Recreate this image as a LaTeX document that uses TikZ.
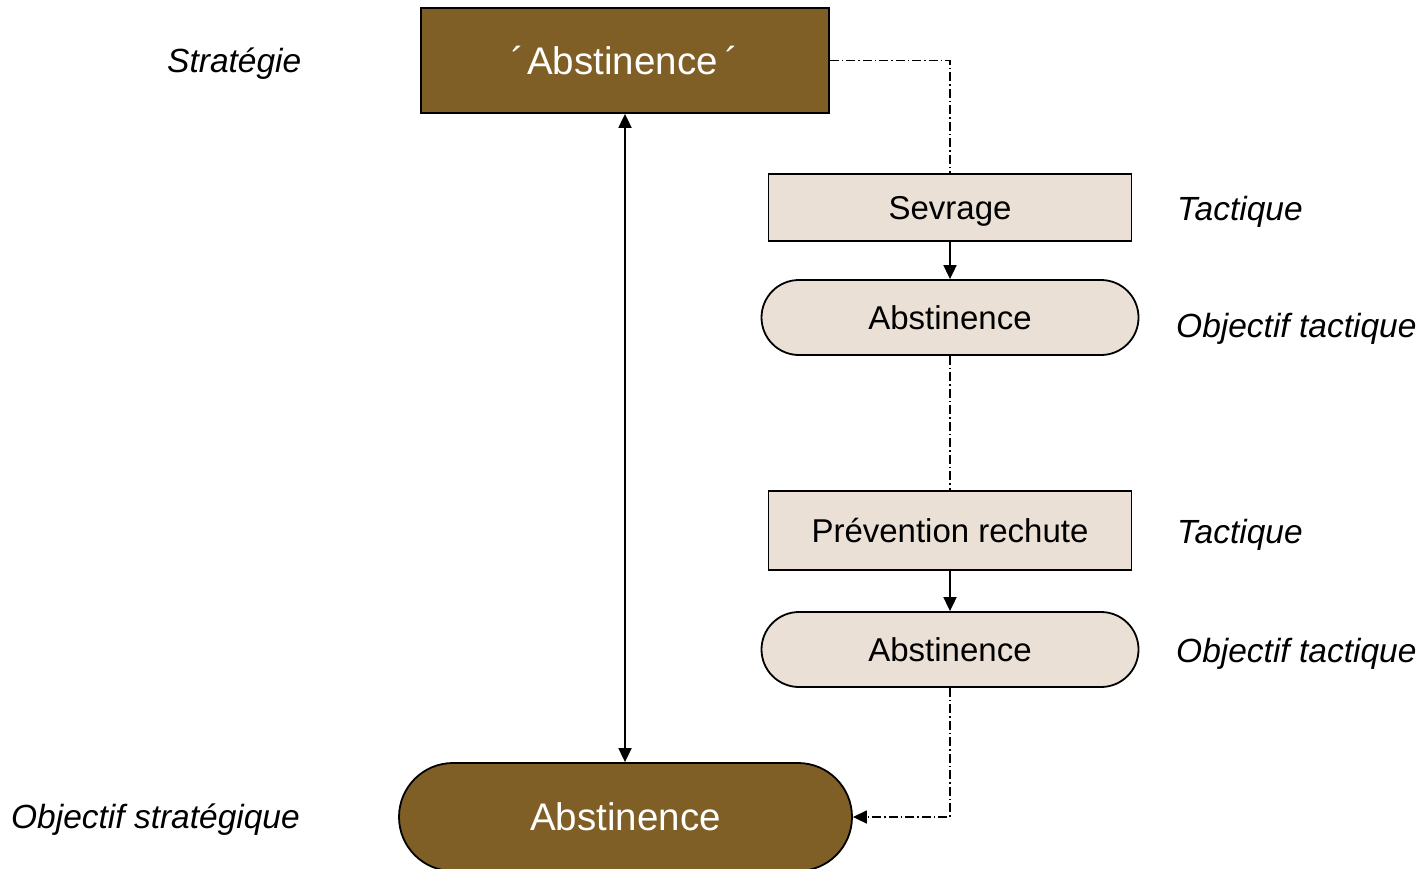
\documentclass[tikz,border=0pt]{standalone}
\usepackage{fontspec}
\setmainfont{Liberation Sans}
\usetikzlibrary{arrows.meta}
\definecolor{brn}{RGB}{127,95,38}
\definecolor{bge}{RGB}{234,224,214}
\begin{document}
\begin{tikzpicture}[x=1pt,y=-1pt,
  base/.style={draw=black, line width=1.8pt, inner sep=0pt, text height=23.6pt, text depth=0pt, font=\fontsize{33}{40}\selectfont},
  bigbox/.style={base, fill=brn, text=white, minimum width=408pt, minimum height=105pt, text height=27.6pt, font=\fontsize{38.5}{46}\selectfont},
  bigpill/.style={base, fill=brn, text=white, minimum width=453pt, minimum height=108pt, rounded corners=54pt, text height=27.6pt, font=\fontsize{38.5}{46}\selectfont},
  tacbox/.style={base, fill=bge, minimum width=363pt},
  pill/.style={base, fill=bge, minimum width=377pt, minimum height=75pt, rounded corners=37.5pt},
  lbl/.style={inner sep=0pt, font=\fontsize{33.5}{40}\selectfont\itshape},
  solidarrow/.style={line width=1.8pt, -{Triangle[length=14pt,width=13pt]}},
  dd/.style={line width=1.5pt, dash pattern=on 9pt off 3pt on 1.5pt off 3pt},
  ddarrow/.style={dd, -{Triangle[length=14pt,width=13pt]}}
]
\useasboundingbox (0,0) rectangle (1426,869);

\node[bigbox] (top) at (625,60.5) {´\hspace{3pt}Abstinence\hspace{8pt}´};
\node[tacbox, minimum height=67pt] (sev) at (950,207.5) {Sevrage};
\node[pill] (ab1) at (950,317.5) {Abstinence};
\node[tacbox, minimum height=79pt] (prev) at (950,530.5) {Prévention rechute};
\node[pill] (ab2) at (950,649.5) {Abstinence};
\node[bigpill] (bot) at (625.5,817) {Abstinence};

\node[lbl, anchor=base west] (l1) at (167,73) {Stratégie};
\node[lbl, anchor=base west] (l2) at (1177,220) {Tactique};
\node[lbl, anchor=base west] (l3) at (1176,337) {Objectif tactique};
\node[lbl, anchor=base west] (l4) at (1177,543) {Tactique};
\node[lbl, anchor=base west] (l5) at (1176,662) {Objectif tactique};
\node[lbl, anchor=base east] (l6) at (300,828) {Objectif stratégique};

\draw[line width=1.8pt, {Triangle[length=14pt,width=13pt]}-{Triangle[length=14pt,width=13pt]}] (top.south) -- (top.south |- bot.north);
\draw[dd] (top.east) -| (sev.north);
\draw[solidarrow] (sev.south) -- (ab1.north);
\draw[dd] (ab1.south) -- (prev.north);
\draw[solidarrow] (prev.south) -- (ab2.north);
\draw[ddarrow] (ab2.south) |- (bot.east);
\end{tikzpicture}
\end{document}
